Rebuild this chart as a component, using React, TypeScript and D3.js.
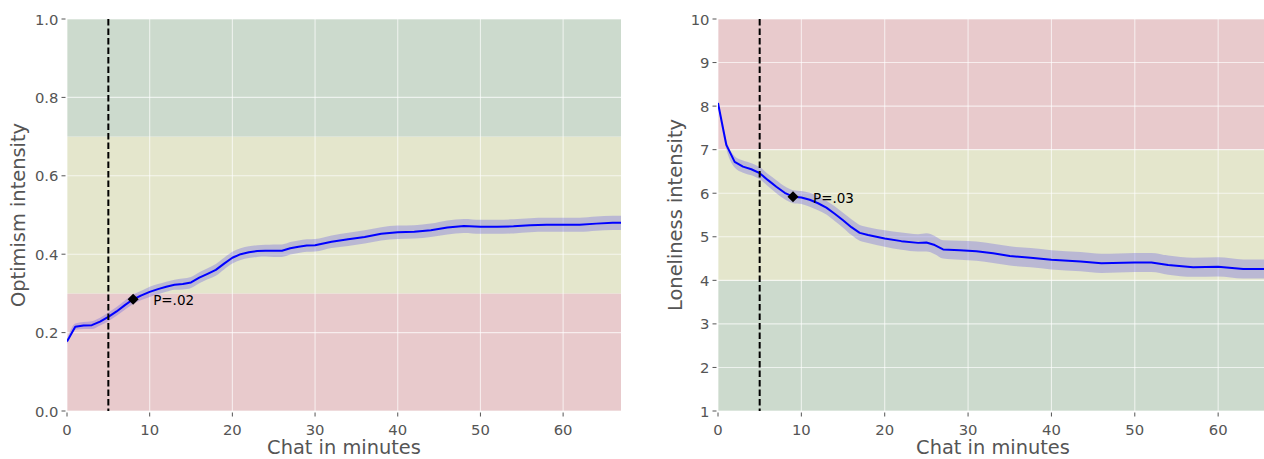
import React from "react";
import * as d3 from "d3";

// ---------- data ----------
const optX = [0,1,2,3,4,5,6,7,8,9,10,11,12,13,14,15,16,17,18,19,20,21,22,23,24,25,26,27,28,29,30,32,34,36,38,40,42,44,46,48,50,52,54,56,58,60,62,64,66,67];
const optY = [0.177,0.215,0.218,0.219,0.228,0.240,0.254,0.270,0.285,0.295,0.304,0.311,0.317,0.322,0.324,0.328,0.340,0.350,0.360,0.376,0.391,0.400,0.405,0.408,0.409,0.409,0.409,0.415,0.419,0.422,0.423,0.432,0.438,0.444,0.452,0.456,0.457,0.461,0.468,0.472,0.470,0.470,0.471,0.474,0.475,0.475,0.475,0.478,0.480,0.480];
const optCI = [0.006,0.008,0.009,0.010,0.010,0.011,0.011,0.012,0.012,0.012,0.013,0.013,0.013,0.013,0.014,0.014,0.014,0.014,0.015,0.015,0.015,0.015,0.015,0.015,0.015,0.016,0.016,0.016,0.016,0.016,0.016,0.016,0.017,0.017,0.017,0.017,0.017,0.017,0.018,0.018,0.018,0.018,0.018,0.018,0.018,0.018,0.018,0.018,0.018,0.018];

const lonX = [0,1,2,3,4,5,6,7,8,9,10,11,12,13,14,15,16,17,18,20,22,24,25,26,27,29,31,33,35,37.5,40,43.5,46,50,52,54,57,60,63,65.5];
const lonY = [8.07,7.11,6.72,6.61,6.55,6.46,6.30,6.15,6.01,5.92,5.90,5.85,5.77,5.67,5.53,5.38,5.22,5.09,5.04,4.96,4.90,4.86,4.87,4.81,4.71,4.69,4.67,4.62,4.56,4.52,4.47,4.43,4.39,4.41,4.41,4.35,4.30,4.31,4.26,4.26];
const lonCI = [0.05,0.10,0.13,0.14,0.14,0.14,0.14,0.15,0.15,0.15,0.15,0.16,0.16,0.16,0.17,0.17,0.18,0.18,0.18,0.19,0.20,0.20,0.21,0.21,0.21,0.22,0.22,0.22,0.22,0.22,0.22,0.22,0.22,0.22,0.22,0.22,0.22,0.22,0.22,0.22];

const optTicksY = [0.0, 0.2, 0.4, 0.6, 0.8, 1.0];
const lonTicksY = [1, 2, 3, 4, 5, 6, 7, 8, 9, 10];
const ticksX = [0, 10, 20, 30, 40, 50, 60];

// bands: [from, to, colorKey]
const optBands: [number, number, string][] = [[0, 0.3, "red"], [0.3, 0.7, "yellow"], [0.7, 1.0, "green"]];
const lonBands: [number, number, string][] = [[1, 4, "green"], [4, 7, "yellow"], [7, 10, "red"]];

const startMinute = 5;
const optMarker = { x: 8, y: 0.285, label: "P=.02" };
const lonMarker = { x: 9, y: 5.92, label: "P=.03" };

// ---------- style ----------
const bandColor: Record<string, string> = {
  red: "#e8cacc",
  yellow: "#e4e6cc",
  green: "#ccdacd",
};
const FONT = "DejaVu Sans, sans-serif";
const TICK_COLOR = "#555555";

type PanelProps = {
  id: string;
  x0: number; x1: number; y0: number; y1: number;
  xDomain: [number, number];
  yDomain: [number, number];
  xs: number[]; ys: number[]; ci: number[];
  bands: [number, number, string][];
  yTicks: number[];
  yFmt: (v: number) => string;
  yLabel: string;
  yLabelX: number;
  marker: { x: number; y: number; label: string };
};

function Panel(p: PanelProps) {
  const x = d3.scaleLinear().domain(p.xDomain).range([p.x0, p.x1]);
  const y = d3.scaleLinear().domain(p.yDomain).range([p.y1, p.y0]);
  const pts = p.xs.map((v, i) => ({ x: v, y: p.ys[i], c: p.ci[i] }));
  const line = d3.line<any>().x((d) => x(d.x)).y((d) => y(d.y)).curve(d3.curveLinear);
  const area = d3.area<any>().x((d) => x(d.x)).y0((d) => y(d.y - d.c)).y1((d) => y(d.y + d.c)).curve(d3.curveMonotoneX);
  const clipId = "clip-" + p.id;
  const mx = x(p.marker.x), my = y(p.marker.y);
  const ds = 5.5;
  const xLabelCenter = (p.x0 + p.x1) / 2 + (p.id === "lon" ? 2 : 0);
  return (
    <g>
      <defs>
        <clipPath id={clipId}>
          <rect x={p.x0} y={p.y0} width={p.x1 - p.x0} height={p.y1 - p.y0} />
        </clipPath>
      </defs>
      {p.bands.map(([a, b, c], i) => (
        <rect key={i} x={p.x0} y={y(b)} width={p.x1 - p.x0} height={y(a) - y(b)} fill={bandColor[c]} />
      ))}
      {/* grid */}
      {p.yTicks.map((t) => (
        <line key={"gy" + t} x1={p.x0} x2={p.x1} y1={y(t)} y2={y(t)} stroke="#ffffff" strokeOpacity={0.65} strokeWidth={1.1} />
      ))}
      {ticksX.filter((t) => x(t) <= p.x1).map((t) => (
        <line key={"gx" + t} x1={x(t)} x2={x(t)} y1={p.y0} y2={p.y1} stroke="#ffffff" strokeOpacity={0.65} strokeWidth={1.1} />
      ))}
      <g clipPath={`url(#${clipId})`}>
        <path d={area(pts) || ""} fill="rgb(90,80,230)" fillOpacity={0.3} stroke="none" />
        <path d={line(pts) || ""} fill="none" stroke="#0000ff" strokeWidth={2} strokeLinejoin="round" />
      </g>
      <line x1={x(startMinute)} x2={x(startMinute)} y1={p.y0} y2={p.y1} stroke="#000" strokeWidth={2} strokeDasharray="6.5,3" />
      <path d={`M${mx},${my - ds} L${mx + ds},${my} L${mx},${my + ds} L${mx - ds},${my} Z`} fill="#000" />
      <text x={mx + 20} y={my + 1} dominantBaseline="central" fontFamily={FONT} fontSize={13.5} fill="#000">{p.marker.label}</text>
      {/* y ticks */}
      {p.yTicks.map((t) => (
        <g key={"ty" + t}>
          <line x1={p.x0 - 5.5} x2={p.x0 - 1.5} y1={y(t)} y2={y(t)} stroke={TICK_COLOR} strokeWidth={1} />
          <text x={p.x0 - 8.5} y={y(t)} textAnchor="end" dominantBaseline="central" fontFamily={FONT} fontSize={14.8} fill={TICK_COLOR}>{p.yFmt(t)}</text>
        </g>
      ))}
      {/* x ticks */}
      {ticksX.filter((t) => x(t) <= p.x1).map((t) => (
        <g key={"tx" + t}>
          <line x1={x(t)} x2={x(t)} y1={p.y1 + 1.5} y2={p.y1 + 5.5} stroke={TICK_COLOR} strokeWidth={1} />
          <text x={x(t)} y={p.y1 + 18.5} textAnchor="middle" dominantBaseline="central" fontFamily={FONT} fontSize={14.8} fill={TICK_COLOR}>{t}</text>
        </g>
      ))}
      <text x={xLabelCenter} y={454} textAnchor="middle" fontFamily={FONT} fontSize={19.4} fill={TICK_COLOR}>Chat in minutes</text>
      <text transform={`translate(${p.yLabelX},${(p.y0 + p.y1) / 2}) rotate(-90)`} textAnchor="middle" dominantBaseline="central" fontFamily={FONT} fontSize={19.4} fill={TICK_COLOR}>{p.yLabel}</text>
    </g>
  );
}

export default function App() {
  return (
    <svg width={1264} height={459} style={{ position: "absolute", left: 0, top: 0, background: "#fff" }}>
      <Panel
        id="opt"
        x0={67} x1={621} y0={19} y1={411}
        xDomain={[0, 67]} yDomain={[0, 1]}
        xs={optX} ys={optY} ci={optCI}
        bands={optBands}
        yTicks={optTicksY}
        yFmt={(v) => v.toFixed(1)}
        yLabel="Optimism intensity"
        yLabelX={18}
        marker={optMarker}
      />
      <Panel
        id="lon"
        x0={718} x1={1264} y0={19} y1={411}
        xDomain={[0, 65.5]} yDomain={[1, 10]}
        xs={lonX} ys={lonY} ci={lonCI}
        bands={lonBands}
        yTicks={lonTicksY}
        yFmt={(v) => String(v)}
        yLabel="Loneliness intensity"
        yLabelX={675}
        marker={lonMarker}
      />
    </svg>
  );
}
